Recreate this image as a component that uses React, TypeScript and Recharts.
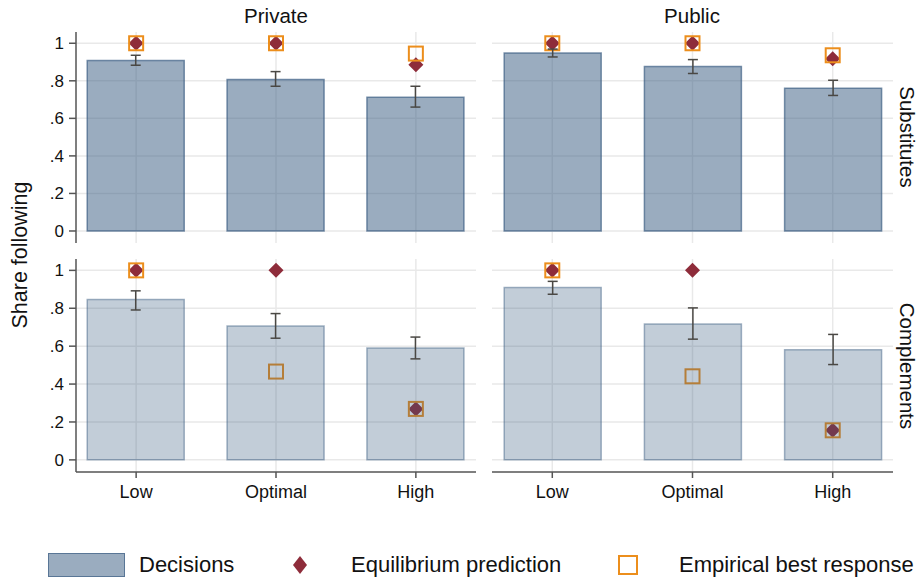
import React from 'react'
import { ComposedChart, Bar, Scatter, ErrorBar, XAxis, YAxis, CartesianGrid } from 'recharts'

const categories = ['Low', 'Optimal', 'High']
const yTicks = [0, 0.2, 0.4, 0.6, 0.8, 1]
const xTicks = [1, 2, 3]
const xDomain = [0.57, 3.43]
const yDomain = [-0.064, 1.06]

// Private / Substitutes
const privSubDecisions = [0.908, 0.807, 0.713]
const privSubCiLow = [0.883, 0.771, 0.66]
const privSubCiHigh = [0.936, 0.849, 0.771]
const privSubEquilibrium = [1, 1, 0.885]
const privSubBestResponse = [1, 1, 0.945]

// Public / Substitutes
const pubSubDecisions = [0.948, 0.876, 0.761]
const pubSubCiLow = [0.927, 0.839, 0.722]
const pubSubCiHigh = [0.969, 0.913, 0.803]
const pubSubEquilibrium = [1, 1, 0.917]
const pubSubBestResponse = [1, 1, 0.936]

// Private / Complements
const privComDecisions = [0.846, 0.706, 0.591]
const privComCiLow = [0.791, 0.642, 0.533]
const privComCiHigh = [0.892, 0.772, 0.648]
const privComEquilibrium = [1, 1, 0.269]
const privComBestResponse = [1, 0.466, 0.269]

// Public / Complements
const pubComDecisions = [0.91, 0.717, 0.581]
const pubComCiLow = [0.874, 0.637, 0.503]
const pubComCiHigh = [0.942, 0.802, 0.662]
const pubComEquilibrium = [1, 1, 0.156]
const pubComBestResponse = [1, 0.441, 0.156]

const FONT = '"Liberation Sans", Arial, Helvetica, sans-serif'
const BAR = '#35597f'
const DIAMOND = '#8e2c3a'
const ORANGE = '#ec8e1c'
const AXIS = '#555555'

function rows(dec: number[], lo: number[], hi: number[], eq: number[], br: number[]) {
  return categories.map((c, i) => ({
    x: i + 1,
    name: c,
    decision: dec[i],
    err: [dec[i] - lo[i], hi[i] - dec[i]],
    eq: eq[i],
    br: br[i],
  }))
}

// use the axis scale when recharts hands one over, else a linear map over the plot box
function place(axis: any, v: number, start: number, size: number, dom: number[], flip: boolean) {
  const s = axis?.scale
  if (typeof s === 'function') return s(v)
  if (s && typeof s.map === 'function') return s.map(v)
  const f = (v - dom[0]) / (dom[1] - dom[0])
  return flip ? start + (1 - f) * size : start + f * size
}

const Diamond = (props: any) => {
  const { cx, cy } = props
  const r = 7.5
  return <polygon points={`${cx},${cy - r} ${cx + r},${cy} ${cx},${cy + r} ${cx - r},${cy}`} fill={DIAMOND} />
}

const Square = (props: any) => {
  const { cx, cy } = props
  return <rect x={cx - 7} y={cy - 7} width={14} height={14} fill="none" stroke={ORANGE} strokeWidth={2} />
}

const fmtY = (v: number) => (v === 0 ? '0' : v === 1 ? '1' : String(v).replace('0.', '.'))

interface PanelProps {
  data: ReturnType<typeof rows>
  left: number
  top: number
  width: number
  height: number
  margin: { top: number; right: number; bottom: number; left: number }
  showY: boolean
  showX: boolean
  opacity: number
}

function Panel({ data, left, top, width, height, margin, showY, showX, opacity }: PanelProps) {
  return (
    <div style={{ position: 'absolute', left, top }}>
      <ComposedChart width={width} height={height} data={data} margin={margin}>
        <CartesianGrid
          stroke="#e9e9e9"
          strokeWidth={1.5}
          horizontalCoordinatesGenerator={({ yAxis, offset }: any) =>
            yTicks.map((t) => place(yAxis, t, offset.top, offset.height, yDomain, true))
          }
          verticalCoordinatesGenerator={({ xAxis, offset }: any) =>
            xTicks.map((t) => place(xAxis, t, offset.left, offset.width, xDomain, false))
          }
        />
        <XAxis
          dataKey="x"
          type="number"
          domain={xDomain}
          ticks={xTicks}
          hide={!showX}
          height={38}
          tickFormatter={(v: number) => categories[v - 1]}
          tick={{ fontSize: 18, fill: '#111', fontFamily: FONT }}
          tickSize={6}
          tickMargin={7}
          stroke={AXIS}
          strokeWidth={1.5}
        />
        <YAxis
          type="number"
          domain={yDomain}
          ticks={yTicks}
          hide={!showY}
          width={76}
          tickFormatter={fmtY}
          tick={{ fontSize: 17, fill: '#111', fontFamily: FONT }}
          tickSize={7}
          tickMargin={5}
          stroke={AXIS}
          strokeWidth={1.5}
        />
        <Scatter dataKey="eq" shape={Diamond} isAnimationActive={false} zIndex={300} />
        <Scatter dataKey="br" shape={Square} isAnimationActive={false} zIndex={300} />
        <Bar
          dataKey="decision"
          barSize={97}
          fill={BAR}
          fillOpacity={opacity}
          stroke={BAR}
          strokeOpacity={opacity + 0.15}
          strokeWidth={1.5}
          isAnimationActive={false}
          zIndex={650}
        >
          <ErrorBar dataKey="err" width={5} stroke="#4a4844" strokeWidth={1.5} zIndex={700} />
        </Bar>
      </ComposedChart>
    </div>
  )
}

const label: React.CSSProperties = {
  position: 'absolute',
  fontFamily: FONT,
  color: '#111',
  whiteSpace: 'nowrap',
  lineHeight: 1,
}

export default function App() {
  const topM = { top: 32, bottom: 7 }
  const botM = { top: 9, bottom: 0 }
  return (
    <div style={{ position: 'absolute', left: 0, top: 0, width: 918, height: 581, background: '#fff', fontFamily: FONT }}>
      <Panel
        data={rows(privSubDecisions, privSubCiLow, privSubCiHigh, privSubEquilibrium, privSubBestResponse)}
        left={0} top={0} width={480} height={250}
        margin={{ ...topM, left: 0, right: 4 }}
        showY showX={false} opacity={0.5}
      />
      <Panel
        data={rows(pubSubDecisions, pubSubCiLow, pubSubCiHigh, pubSubEquilibrium, pubSubBestResponse)}
        left={480} top={0} width={417} height={250}
        margin={{ ...topM, left: 12, right: 4 }}
        showY={false} showX={false} opacity={0.5}
      />
      <Panel
        data={rows(privComDecisions, privComCiLow, privComCiHigh, privComEquilibrium, privComBestResponse)}
        left={0} top={250} width={480} height={260}
        margin={{ ...botM, left: 0, right: 4 }}
        showY showX opacity={0.3}
      />
      <Panel
        data={rows(pubComDecisions, pubComCiLow, pubComCiHigh, pubComEquilibrium, pubComBestResponse)}
        left={480} top={250} width={417} height={260}
        margin={{ ...botM, left: 12, right: 4 }}
        showY={false} showX opacity={0.3}
      />

      <div style={{ ...label, fontSize: 20.5, left: 276, top: 16, transform: 'translate(-50%, -50%)' }}>Private</div>
      <div style={{ ...label, fontSize: 20.5, left: 692, top: 16, transform: 'translate(-50%, -50%)' }}>Public</div>
      <div style={{ ...label, fontSize: 20.5, left: 907, top: 137, transform: 'translate(-50%, -50%) rotate(90deg)' }}>Substitutes</div>
      <div style={{ ...label, fontSize: 20.5, left: 907, top: 366, transform: 'translate(-50%, -50%) rotate(90deg)' }}>Complements</div>
      <div style={{ ...label, fontSize: 21.5, left: 21, top: 255, transform: 'translate(-50%, -50%) rotate(-90deg)' }}>Share following</div>

      <div style={{ position: 'absolute', left: 48, top: 553, width: 75, height: 22, background: 'rgba(53,89,127,0.5)', border: '1.5px solid rgba(53,89,127,0.65)' }} />
      <div style={{ ...label, fontSize: 22, left: 139, top: 565, transform: 'translateY(-50%)' }}>Decisions</div>
      <svg style={{ position: 'absolute', left: 290, top: 555 }} width={20} height={20}>
        <polygon points="10,1 17,10 10,19 3,10" fill={DIAMOND} />
      </svg>
      <div style={{ ...label, fontSize: 22, left: 351, top: 565, transform: 'translateY(-50%)' }}>Equilibrium prediction</div>
      <svg style={{ position: 'absolute', left: 617, top: 554 }} width={22} height={22}>
        <rect x={2} y={2} width={18} height={18} fill="none" stroke={ORANGE} strokeWidth={2} />
      </svg>
      <div style={{ ...label, fontSize: 22, left: 679, top: 565, transform: 'translateY(-50%)' }}>Empirical best response</div>
    </div>
  )
}
